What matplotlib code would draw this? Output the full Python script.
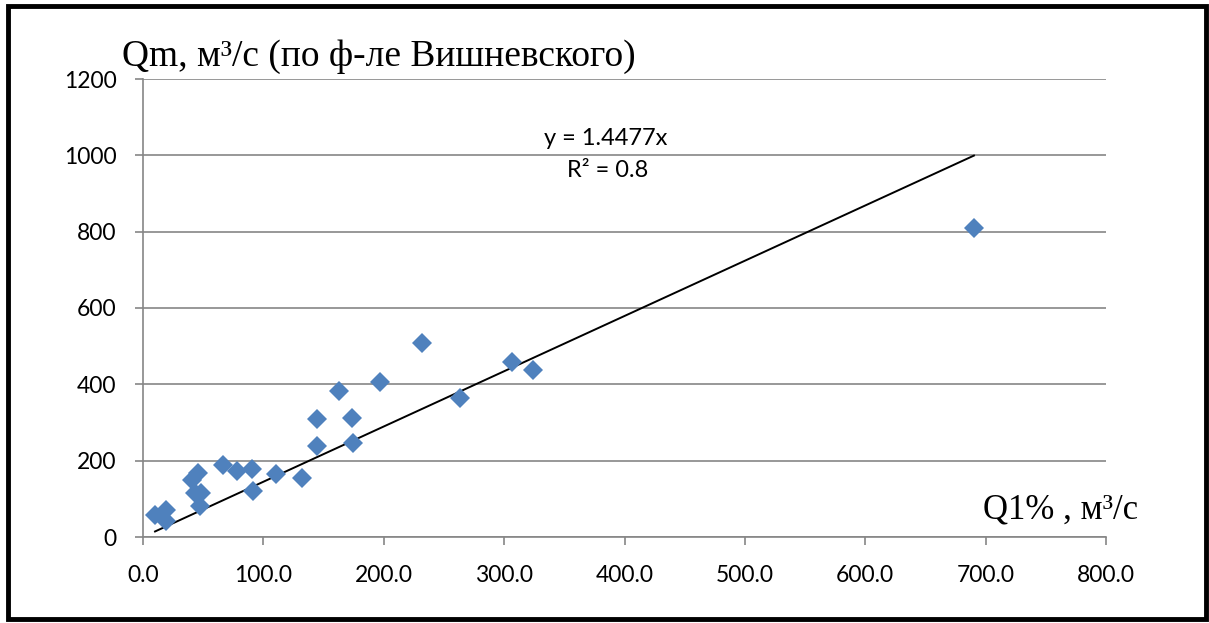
import matplotlib
matplotlib.use("Agg")
import matplotlib.pyplot as plt
from matplotlib.patches import Rectangle
import numpy as np

# Design discharge Q1% vs. maximum discharge by Vishnevsky's formula
q1 = [10.0, 19.1, 19.1, 40.7, 45.7, 43.2, 48.2, 47.4, 66.5, 78.1, 90.5, 91.4,
      110.5, 132.1, 144.5, 144.5, 162.8, 173.6, 174.4, 196.9, 231.8, 263.3,
      306.5, 324.0, 690.3]
qm = [57.6, 72.0, 42.0, 149.3, 167.7, 115.3, 115.3, 81.2, 188.6, 172.9, 178.2,
      120.5, 165.1, 154.6, 309.2, 238.4, 382.5, 311.8, 246.3, 406.1, 508.3,
      364.2, 458.5, 437.5, 809.6]

slope = 1.4477
r2_text = "R² = 0.8"
x_ticks = [0, 100, 200, 300, 400, 500, 600, 700, 800]
y_ticks = [0, 200, 400, 600, 800, 1000, 1200]

W, H = 1209, 623
fig = plt.figure(figsize=(W / 100, H / 100), dpi=100)
ax = fig.add_axes([143 / W, 1 - 537 / H, (1106 - 143) / W, (537 - 79) / H])

grid_c = "#868686"
ax.set_xlim(0, 800)
ax.set_ylim(0, 1200)
ax.set_xticks(x_ticks)
ax.set_xticklabels([f"{v:.1f}" for v in x_ticks])
ax.set_yticks(y_ticks)
ax.set_yticklabels([str(v) for v in y_ticks])
for side in ("top", "right"):
    ax.spines[side].set_visible(False)
for side in ("left", "bottom"):
    ax.spines[side].set_color(grid_c)
    ax.spines[side].set_linewidth(1.2)
ax.tick_params(axis="both", direction="out", length=6, width=1.2, color=grid_c,
               labelsize=16.5)
ax.tick_params(axis="x", pad=14)
ax.tick_params(axis="y", pad=13)
for lab in ax.get_xticklabels() + ax.get_yticklabels():
    lab.set_fontfamily("Lato")
ax.yaxis.grid(True, color=grid_c, linewidth=1.2)
ax.set_axisbelow(True)

# linear trend through the origin
xs = np.array([min(q1), max(q1)])
ax.plot(xs, slope * xs, color="black", linewidth=1.4, zorder=2)

ax.plot(q1, qm, linestyle="none", marker="D", markersize=10.5,
        color="#4F81BD", markeredgewidth=0, zorder=3)

ax.text(384, 1043, f"y = {slope}x", ha="center", va="center",
        fontsize=17, fontfamily="Lato")
ax.text(386, 960, r2_text, ha="center", va="center",
        fontsize=17, fontfamily="Lato")

fig.text(122 / W, 1 - 66 / H, "Qm, м³/с (по ф-ле Вишневского)",
         fontsize=27, fontfamily="Liberation Serif", ha="left", va="baseline")
fig.text(983 / W, 1 - 518 / H, "Q1% , м³/с",
         fontsize=25, fontfamily="Liberation Serif", ha="left", va="baseline")

# frame around the whole figure
fig.patches.append(Rectangle((8 / W, 4 / H), 1198 / W, 613 / H,
                             transform=fig.transFigure, fill=False,
                             edgecolor="black", linewidth=3.5))

fig.savefig("out.png", dpi=100)
